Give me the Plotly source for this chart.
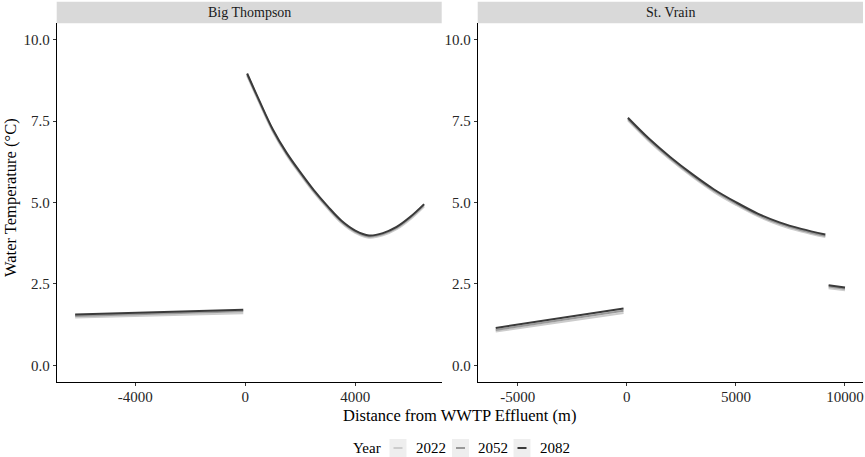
import plotly.graph_objects as go

# ---------------- data ----------------
years = ["2022", "2052", "2082"]
year_colors = {"2022": "#cccccc", "2052": "#999999", "2082": "#3a3a3a"}

sites = ["Big Thompson", "St. Vrain"]

# Big Thompson
bt_up_x = [-6180, -70]
bt_up = {"2022": [1.47, 1.60], "2052": [1.52, 1.66], "2082": [1.56, 1.71]}
bt_dn_x = [70, 500, 1000, 1500, 2000, 2500, 3000, 3500, 4000, 4500, 5000, 5500, 6000, 6500]
bt_dn_2082 = [8.96, 8.15, 7.25, 6.53, 5.93, 5.37, 4.88, 4.44, 4.14, 3.99, 4.06, 4.25, 4.56, 4.95]
bt_dn_2052 = [8.93, 8.12, 7.22, 6.50, 5.90, 5.34, 4.85, 4.41, 4.11, 3.96, 4.03, 4.22, 4.53, 4.92]
bt_dn_2022 = [8.89, 8.08, 7.18, 6.46, 5.86, 5.30, 4.81, 4.37, 4.07, 3.92, 3.99, 4.18, 4.49, 4.88]
bt_dn = {"2022": bt_dn_2022, "2052": bt_dn_2052, "2082": bt_dn_2082}

# St. Vrain
sv_up_x = [-6010, -150]
sv_up = {"2022": [1.04, 1.61], "2052": [1.09, 1.68], "2082": [1.15, 1.75]}
sv_dn_x = [50, 1000, 2000, 3000, 4000, 5000, 6000, 7000, 8000, 9100]
sv_dn_2082 = [7.60, 6.97, 6.39, 5.87, 5.40, 5.01, 4.66, 4.39, 4.19, 4.02]
sv_dn_2052 = [7.56, 6.93, 6.35, 5.83, 5.36, 4.97, 4.62, 4.35, 4.15, 3.98]
sv_dn_2022 = [7.52, 6.89, 6.31, 5.79, 5.32, 4.93, 4.58, 4.31, 4.11, 3.94]
sv_dn = {"2022": sv_dn_2022, "2052": sv_dn_2052, "2082": sv_dn_2082}
sv_far_x = [9250, 10000]
sv_far = {"2022": [2.37, 2.31], "2052": [2.42, 2.35], "2082": [2.46, 2.39]}

bt_xticks = [-4000, 0, 4000]
sv_xticks = [-5000, 0, 5000, 10000]
yticks = [0.0, 2.5, 5.0, 7.5, 10.0]

x_title = "Distance from WWTP Effluent (m)"
y_title = "Water Temperature (°C)"
legend_title = "Year"

# ---------------- figure ----------------
FONT = "Liberation Serif"
W, H = 865, 457
fig = go.Figure()


def px_x(p):
    return p / W


def px_y(p):
    return 1 - p / H


def join(segments):
    xs, ys = [], []
    for sx, sy in segments:
        if xs:
            xs.append(None)
            ys.append(None)
        xs.extend(sx)
        ys.extend(sy)
    return xs, ys


for yr in years:
    xs, ys = join([(bt_up_x, bt_up[yr]), (bt_dn_x, bt_dn[yr])])
    fig.add_trace(go.Scatter(x=xs, y=ys, mode="lines", name=yr, legendgroup=yr,
                             line=dict(color=year_colors[yr], width=2, shape="spline"),
                             xaxis="x", yaxis="y", showlegend=False, hoverinfo="skip"))
    xs, ys = join([(sv_up_x, sv_up[yr]), (sv_dn_x, sv_dn[yr]), (sv_far_x, sv_far[yr])])
    fig.add_trace(go.Scatter(x=xs, y=ys, mode="lines", name=yr, legendgroup=yr,
                             line=dict(color=year_colors[yr], width=2, shape="spline"),
                             xaxis="x2", yaxis="y2", showlegend=False, hoverinfo="skip"))

axis_common = dict(showgrid=False, zeroline=False, showline=True, linecolor="black",
                   linewidth=1, ticks="outside", ticklen=3, tickcolor="#333333",
                   tickfont=dict(family=FONT, size=15, color="#262626"))

dom_left = [px_x(56.7), px_x(441.7)]
dom_right = [px_x(477.7), px_x(863)]
dom_y = [px_y(381.7), px_y(23.3)]

fig.update_layout(
    width=W, height=H,
    margin=dict(l=0, r=0, t=0, b=0),
    paper_bgcolor="white", plot_bgcolor="white",
    font=dict(family=FONT, color="black"),
    xaxis=dict(domain=dom_left, range=[-6850, 7140], tickvals=bt_xticks,
               ticktext=[str(v) for v in bt_xticks], anchor="y", ticklabelstandoff=-2,
               **axis_common),
    yaxis=dict(domain=dom_y, range=[-0.5, 10.5], tickvals=yticks,
               ticktext=[f"{v:.1f}" for v in yticks], anchor="x", **axis_common),
    xaxis2=dict(domain=dom_right, range=[-6835, 10826], tickvals=sv_xticks,
                ticktext=[str(v) for v in sv_xticks], anchor="y2", ticklabelstandoff=-2,
                **axis_common),
    yaxis2=dict(domain=dom_y, range=[-0.5, 10.5], tickvals=yticks,
                ticktext=[f"{v:.1f}" for v in yticks], anchor="x2", **axis_common),
    showlegend=False,
)

shapes = []
annotations = []
# facet strips
for dom, name in [(dom_left, sites[0]), (dom_right, sites[1])]:
    shapes.append(dict(type="rect", xref="paper", yref="paper", x0=dom[0], x1=dom[1],
                       y0=px_y(23.3), y1=px_y(1.7), fillcolor="#d9d9d9", line=dict(width=0),
                       layer="below"))
    annotations.append(dict(text=name, xref="paper", yref="paper", x=(dom[0] + dom[1]) / 2,
                            y=px_y(12.5), xanchor="center", yanchor="middle",
                            showarrow=False, font=dict(family=FONT, size=14, color="#1a1a1a")))

# axis titles
annotations.append(dict(text=x_title, xref="paper", yref="paper", x=px_x(460), y=px_y(415),
                        xanchor="center", yanchor="middle", showarrow=False,
                        font=dict(family=FONT, size=16.5, color="black")))
annotations.append(dict(text=y_title, xref="paper", yref="paper", x=px_x(10), y=px_y(198),
                        xanchor="center", yanchor="middle", textangle=-90, showarrow=False,
                        font=dict(family=FONT, size=16.5, color="black")))

# legend (drawn as marks + text)
leg_y = 448
annotations.append(dict(text=legend_title, xref="paper", yref="paper", x=px_x(351), y=px_y(leg_y),
                        xanchor="left", yanchor="middle", showarrow=False,
                        font=dict(family=FONT, size=15, color="black")))
key_left = {"2022": 389.5, "2052": 452, "2082": 513.5}
for yr in years:
    kx = key_left[yr]
    shapes.append(dict(type="rect", xref="paper", yref="paper", x0=px_x(kx), x1=px_x(kx + 17),
                       y0=px_y(457), y1=px_y(439), fillcolor="#eeeeee", line=dict(width=0)))
    shapes.append(dict(type="line", xref="paper", yref="paper", x0=px_x(kx + 4), x1=px_x(kx + 13),
                       y0=px_y(leg_y), y1=px_y(leg_y),
                       line=dict(color=year_colors[yr], width=2)))
    annotations.append(dict(text=yr, xref="paper", yref="paper", x=px_x(kx + 24), y=px_y(leg_y),
                            xanchor="left", yanchor="middle", showarrow=False,
                            font=dict(family=FONT, size=15, color="black")))

fig.update_layout(shapes=shapes, annotations=annotations)

fig.write_html("out.html", config={"displayModeBar": False},
               post_script="document.body.style.margin='0';document.body.style.padding='0';")
